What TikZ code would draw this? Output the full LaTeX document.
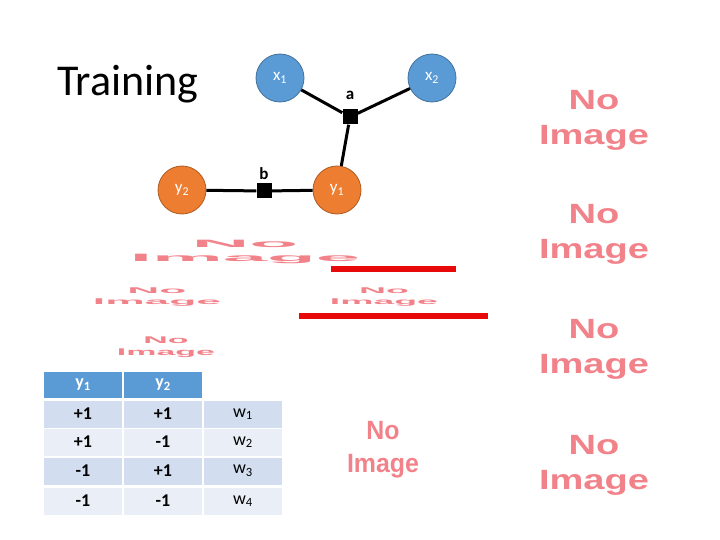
\documentclass[tikz,border=0pt]{standalone}
\usepackage{fontspec}
\setmainfont{Carlito}
\newfontfamily\arialf{Liberation Sans}
\usepackage{graphicx}
\definecolor{nodeblue}{HTML}{5B9BD5}
\definecolor{nodeblueb}{HTML}{41719C}
\definecolor{nodeorange}{HTML}{ED7D31}
\definecolor{nodeorangeb}{HTML}{AE5A21}
\definecolor{noimgpink}{HTML}{F2828A}
\definecolor{barred}{HTML}{E80A0A}
\definecolor{rowdark}{HTML}{D2DEEF}
\definecolor{rowlight}{HTML}{EAEFF7}
\newcommand{\noimgb}[2]{\resizebox*{#1}{#2}{\arialf\bfseries\shortstack{No\\[2.6pt]Image}}}
\newcommand{\sub}[1]{\textsubscript{#1}}
\tikzset{
  var/.style={circle, minimum size=48pt, inner sep=0pt, line width=0.8pt, text=white, font=\fontsize{17}{18}\selectfont},
  xvar/.style={var, fill=nodeblue, draw=nodeblueb},
  yvar/.style={var, fill=nodeorange, draw=nodeorangeb},
  factor/.style={rectangle, fill=black, minimum size=15pt, inner sep=0pt},
  flabel/.style={font=\fontsize{17}{18}\selectfont\bfseries},
  edge/.style={line width=3pt, black},
  noimg/.style={inner sep=0pt, text=noimgpink},
  bar/.style={line width=5.5pt, barred},
  cell/.style={rectangle, minimum width=78pt, minimum height=27pt, inner sep=0pt, font=\fontsize{18}{20}\selectfont},
  hcell/.style={cell, fill=nodeblue, text=white, font=\fontsize{18}{20}\selectfont\bfseries, minimum height=26pt},
  dcell/.style={cell, fill=rowdark},
  lcell/.style={cell, fill=rowlight},
  bnum/.style={font=\fontsize{18}{20}\selectfont\bfseries},
}
\begin{document}
\begin{tikzpicture}[x=1pt, y=-1pt]
\useasboundingbox (0,0) rectangle (720,540);
% title
\node[anchor=base west, inner sep=0pt, font=\fontsize{44}{48}\selectfont] (title) at (57,96) {Training};
% factor graph
\node[xvar] (x1) at (280,78) {x\sub{1}};
\node[xvar] (x2) at (432,78) {x\sub{2}};
\node[factor] (a) at (350,117) {};
\node[flabel] (la) at (350,95) {a};
\node[yvar] (y1) at (337,190) {y\sub{1}};
\node[yvar] (y2) at (182,190) {y\sub{2}};
\node[factor] (b) at (264,191) {};
\node[flabel] (lb) at (264,174) {b};
\draw[edge] (x1) -- (a);
\draw[edge] (x2) -- (a);
\draw[edge] (a) -- (y1);
\draw[edge] (y2) -- (b);
\draw[edge] (b) -- (y1);
% distorted placeholders
\node[noimg] (ni1) at (245,252) {\noimgb{230pt}{23pt}};
\node[noimg] (ni2) at (157,297) {\noimgb{128pt}{18pt}};
\node[noimg] (ni3) at (384,297) {\noimgb{108pt}{18pt}};
\node[noimg] (ni4) at (166,347) {\noimgb{98pt}{21pt}};
\node[noimg] (ni5) at (383,450) {\noimgb{72pt}{57pt}};
% right column placeholders
\node[noimg] (r1) at (594,120) {\noimgb{110pt}{60pt}};
\node[noimg] (r2) at (594,234) {\noimgb{110pt}{60pt}};
\node[noimg] (r3) at (594,349) {\noimgb{110pt}{60pt}};
\node[noimg] (r4) at (594,465) {\noimgb{110pt}{60pt}};
% red bars
\coordinate (bar1a) at (331,269);
\coordinate (bar1b) at (456,269);
\coordinate (bar2a) at (299,316);
\coordinate (bar2b) at (488,316);
\draw[bar] (bar1a) -- (bar1b);
\draw[bar] (bar2a) -- (bar2b);
% table
\node[hcell] (h1) at (83,385) {y\sub{1}};
\node[hcell] (h2) at (163,385) {y\sub{2}};
\node[dcell, bnum] (c11) at (83,414) {+1};
\node[dcell, bnum] (c12) at (163,414) {+1};
\node[dcell] (c13) at (243,414) {w\sub{1}};
\node[lcell, bnum] (c21) at (83,442) {+1};
\node[lcell, bnum] (c22) at (163,442) {-1};
\node[lcell] (c23) at (243,442) {w\sub{2}};
\node[dcell, bnum] (c31) at (83,471) {-1};
\node[dcell, bnum] (c32) at (163,471) {+1};
\node[dcell] (c33) at (243,471) {w\sub{3}};
\node[lcell, bnum] (c41) at (83,501) {-1};
\node[lcell, bnum] (c42) at (163,501) {-1};
\node[lcell] (c43) at (243,501) {w\sub{4}};
\end{tikzpicture}
\end{document}
